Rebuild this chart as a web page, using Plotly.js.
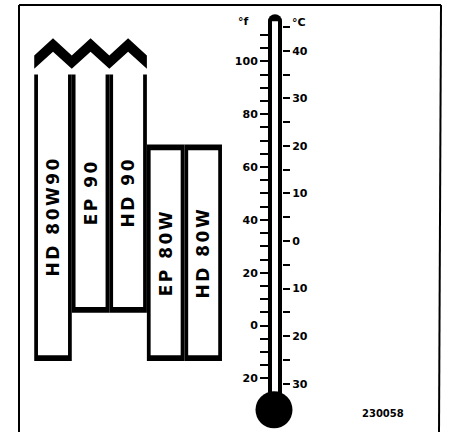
<!DOCTYPE html>
<html><head><meta charset="utf-8">
<script src="https://cdn.plot.ly/plotly-3.0.1.min.js"></script>
<style>html,body{margin:0;padding:0;background:#fff;} #chart{width:449px;height:432px;}</style>
</head><body><div id="chart"></div>
<script>
// ---- data ----
const categories = ["HD 80W90", "EP 90", "HD 90", "EP 80W", "HD 80W"];
const lowC  = [-24.6, -14.5, -14.5, -24.6, -24.6];   // lowest usable temperature, °C
const highC = [35, 35, 35, 19.7, 19.7];               // highest drawn temperature, °C
const openTop = [true, true, true, false, false];     // range continues upward (break symbol)
const fTickVals = [-20,-15,-10,-5,0,5,10,15,20,25,30,35,40,45,50,55,60,65,70,75,80,85,90,95,100,105,110];
const fTickText = ["20","","","","0","","","","20","","","","40","","","","60","","","","80","","","","100","",""];
const cTickVals = [-30,-25,-20,-15,-10,-5,0,5,10,15,20,25,30,35,40,45];
const cTickText = ["30","","20","","10","","0","","10","","20","","30","","40",""];
const unitF = "°f", unitC = "°C";
const figureCode = "230058";

// ---- geometry / style ----
const W = 449, H = 432;
const pxPerC = 4.757, zeroCpx = 241;
const cTop = zeroCpx / pxPerC, cBot = (zeroCpx - H) / pxPerC;
const fRange = [cBot * 1.8 + 32, cTop * 1.8 + 32];
const barPx0 = 53, barStep = 37.55;
const px2x = p => (p - barPx0) / barStep;
const xRange = [px2x(0), px2x(W)];
const t = 1.2;            // outline thickness in °C units
const innerW = 0.8;
const xs = categories.map((c, i) => i);

const blackBase = lowC.map(v => v - t / 2);
const blackTop = highC.map((v, i) => openTop[i] ? v : v + t / 2);
const whiteBase = lowC.map(v => v + t / 2);
const whiteTop = highC.map((v, i) => openTop[i] ? v + 8 : v - t / 2);

const traces = [];
traces.push({type: 'bar', x: xs, base: blackBase, y: blackTop.map((v, i) => v - blackBase[i]),
  width: 1, marker: {color: '#000', line: {width: 0}}, hoverinfo: 'skip', showlegend: false});
traces.push({type: 'bar', x: xs, base: whiteBase, y: whiteTop.map((v, i) => v - whiteBase[i]),
  width: innerW, marker: {color: '#fff', line: {width: 0}}, hoverinfo: 'skip', showlegend: false});
traces.push({type: 'bar', x: xs, base: lowC, y: highC.map((v, i) => v - lowC[i]),
  width: innerW, marker: {color: 'rgba(0,0,0,0)', line: {width: 0}},
  text: categories.map(c => '<span style="letter-spacing:2.5px">' + c + '</span>'),
  textposition: 'inside', insidetextanchor: 'middle', textangle: -90, constraintext: 'none',
  insidetextfont: {family: 'DejaVu Sans', size: 17, weight: 'bold', color: '#000'},
  hoverinfo: 'skip', showlegend: false});

// break symbol over the open-topped columns
const openIdx = xs.filter(i => openTop[i]);
const zzLow = 39.0, zzHigh = 42.6, zzThick = 2.8;
const zx = [], zyTop = [];
const firstI = openIdx[0], lastI = openIdx[openIdx.length - 1];
for (let k = 0; k <= (lastI - firstI + 1) * 2; k++) {
  zx.push(firstI - 0.5 + k * 0.5);
  zyTop.push(k % 2 === 0 ? zzLow : zzHigh);
}
const zyBot = zyTop.map(v => v - zzThick);
traces.push({type: 'scatter', mode: 'lines', x: zx.concat(zx.slice().reverse()),
  y: zyTop.concat(zyBot.slice().reverse()), fill: 'toself', fillcolor: '#000',
  line: {width: 0, color: '#000'}, hoverinfo: 'skip', showlegend: false});

// thermometer
const tubeX = px2x(275), bulbX = px2x(274);
const capC = 46.2, bulbC = -35.5;
traces.push({type: 'scatter', mode: 'lines', x: [tubeX, tubeX], y: [bulbC, capC],
  line: {color: '#000', width: 14}, hoverinfo: 'skip', showlegend: false});
traces.push({type: 'scatter', mode: 'markers', x: [tubeX], y: [capC],
  marker: {color: '#000', size: 14, line: {width: 0}}, hoverinfo: 'skip', showlegend: false});
traces.push({type: 'scatter', mode: 'lines', x: [tubeX, tubeX], y: [bulbC + 3, capC],
  line: {color: '#fff', width: 6}, hoverinfo: 'skip', showlegend: false});
traces.push({type: 'scatter', mode: 'markers', x: [bulbX], y: [bulbC],
  marker: {color: '#000', size: 37, line: {width: 0}}, hoverinfo: 'skip', showlegend: false});
traces.push({type: 'scatter', x: [], y: [], yaxis: 'y2', hoverinfo: 'skip', showlegend: false});

const tickFont = {family: 'DejaVu Sans', size: 11, weight: 'bold', color: '#000'};
const layout = {
  width: W, height: H, margin: {l: 0, r: 0, t: 0, b: 0, pad: 0},
  paper_bgcolor: '#fff', plot_bgcolor: '#fff', barmode: 'overlay', showlegend: false,
  xaxis: {range: xRange, visible: false, fixedrange: true},
  yaxis: {range: [cBot, cTop], side: 'right', anchor: 'free', position: 282 / W,
    tickmode: 'array', tickvals: cTickVals, ticktext: cTickText, ticks: 'outside',
    ticklen: 7, tickwidth: 2, tickcolor: '#000', showgrid: false, zeroline: false,
    showline: false, tickfont: tickFont, fixedrange: true},
  yaxis2: {range: fRange, overlaying: 'y', side: 'left', anchor: 'free', position: 268 / W,
    tickmode: 'array', tickvals: fTickVals, ticktext: fTickText, ticks: 'outside',
    ticklen: 8, tickwidth: 2, tickcolor: '#000', showgrid: false, zeroline: false,
    showline: false, tickfont: tickFont, fixedrange: true},
  shapes: [
    {type: 'line', xref: 'paper', yref: 'paper', x0: 19 / W, x1: 441 / W, y0: 1 - 5 / H, y1: 1 - 5 / H, line: {color: '#000', width: 2}},
    {type: 'line', xref: 'paper', yref: 'paper', x0: 19 / W, x1: 19 / W, y0: 0, y1: 1 - 5 / H, line: {color: '#000', width: 2}},
    {type: 'line', xref: 'paper', yref: 'paper', x0: 441 / W, x1: 439 / W, y0: 1 - 5 / H, y1: 0, line: {color: '#000', width: 2}}
  ],
  annotations: [
    {xref: 'paper', yref: 'paper', x: 243 / W, y: 1 - 21 / H, xanchor: 'center', yanchor: 'middle', text: unitF, showarrow: false, font: tickFont},
    {xref: 'paper', yref: 'paper', x: 299 / W, y: 1 - 22 / H, xanchor: 'center', yanchor: 'middle', text: unitC, showarrow: false, font: tickFont},
    {xref: 'paper', yref: 'paper', x: 382.5 / W, y: 1 - 413.7 / H, xanchor: 'center', yanchor: 'middle', text: figureCode, showarrow: false,
      font: {family: 'DejaVu Sans', size: 10, weight: 'bold', color: '#000'}}
  ]
};
Plotly.newPlot('chart', traces, layout, {staticPlot: true, displayModeBar: false});
</script></body></html>
